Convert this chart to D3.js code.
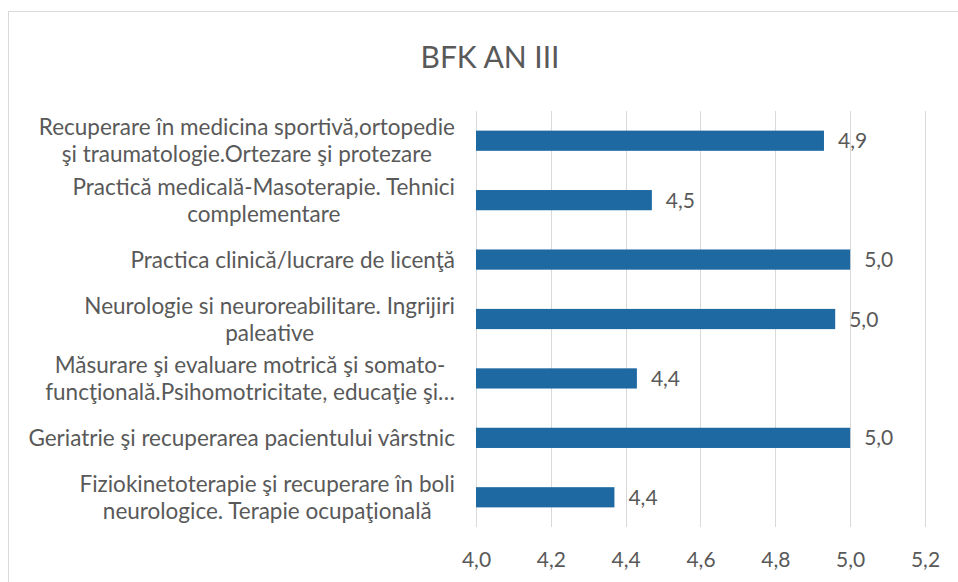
<!DOCTYPE html>
<html>
<head>
<meta charset="utf-8">
<script src="https://cdn.jsdelivr.net/npm/d3@7"></script>
<style>
 body { margin:0; background:#ffffff; }
 text { font-family: Lato, "Open Sans", sans-serif; fill:#595959; }
</style>
</head>
<body>
<script>
 // data
 var title = "BFK AN III";
 var categories = [
   ["Recuperare în medicina sportivă,ortopedie", "şi traumatologie.Ortezare şi protezare"],
   ["Practică medicală-Masoterapie. Tehnici", "complementare"],
   ["Practica clinică/lucrare de licenţă"],
   ["Neurologie si neuroreabilitare. Ingrijiri", "paleative"],
   ["Măsurare şi evaluare motrică şi somato-", "funcţională.Psihomotricitate, educaţie şi…"],
   ["Geriatrie şi recuperarea pacientului vârstnic"],
   ["Fiziokinetoterapie şi recuperare în boli", "neurologice. Terapie ocupaţională"]
 ];
 var values = [4.93, 4.47, 5.0, 4.96, 4.43, 5.0, 4.37];
 var tickValues = [4.0, 4.2, 4.4, 4.6, 4.8, 5.0, 5.2];

 var W = 958, H = 582;
 var svg = d3.select("body").append("svg")
     .attr("width", W)
     .attr("height", H);

 // chart area border (right/bottom cut off in the scan)
 svg.append("rect")
     .attr("x", 8.5).attr("y", 11.5)
     .attr("width", 1000).attr("height", 1000)
     .attr("fill", "none")
     .attr("stroke", "#d9d9d9");

 var x = d3.scaleLinear().domain([4.0, 5.2]).range([476, 925]);
 var y = d3.scaleBand()
     .domain(d3.range(categories.length))
     .range([111, 527])
     .paddingInner(0.66)
     .paddingOuter(0.33);

 var fmt = function(d) { return d.toFixed(1).replace(".", ","); };

 // title
 svg.append("text")
     .attr("x", 490).attr("y", 68)
     .attr("text-anchor", "middle")
     .style("font-size", "30px")
     .text(title);

 // gridlines
 svg.append("g").selectAll("line").data(tickValues).enter().append("line")
     .attr("x1", function(d) { return Math.round(x(d)) + 0.5; })
     .attr("x2", function(d) { return Math.round(x(d)) + 0.5; })
     .attr("y1", 111).attr("y2", 527)
     .attr("stroke", "#d9d9d9");

 // x axis
 var xAxis = svg.append("g")
     .attr("transform", "translate(0,527)")
     .call(d3.axisBottom(x).tickValues(tickValues).tickFormat(fmt).tickSize(0).tickPadding(25));
 xAxis.select(".domain").remove();
 xAxis.selectAll("text")
     .style("font-size", "21px")
     .style("font-family", "Lato, 'Open Sans', sans-serif")
     .attr("fill", "#595959");

 // bars
 svg.append("g").selectAll("rect").data(values).enter().append("rect")
     .attr("x", x(4.0))
     .attr("y", function(d, i) { return y(i); })
     .attr("width", function(d) { return x(d) - x(4.0); })
     .attr("height", y.bandwidth())
     .attr("fill", "#1e69a2");

 // value labels
 svg.append("g").selectAll("text").data(values).enter().append("text")
     .attr("x", function(d) { return x(d) + 14; })
     .attr("y", function(d, i) { return y(i) + y.bandwidth() / 2; })
     .attr("dy", "0.36em")
     .style("font-size", "21px")
     .text(fmt);

 // category labels, lines centred inside a right-aligned block
 var lineH = 27;
 var labels = svg.append("g").selectAll("text").data(categories).enter().append("text")
     .attr("text-anchor", "middle")
     .style("font-size", "22.5px");
 labels.each(function(lines, i) {
   var t = d3.select(this);
   var cy = y(i) + y.bandwidth() / 2;
   var top = cy - (lines.length - 1) * lineH / 2;
   lines.forEach(function(s, k) {
     t.append("tspan")
       .attr("y", top + k * lineH)
       .attr("dy", "0.36em")
       .text(s);
   });
   var wmax = 0;
   t.selectAll("tspan").each(function() {
     wmax = Math.max(wmax, this.getComputedTextLength());
   });
   t.selectAll("tspan").attr("x", 455 - wmax / 2);
 });
</script>
</body>
</html>
